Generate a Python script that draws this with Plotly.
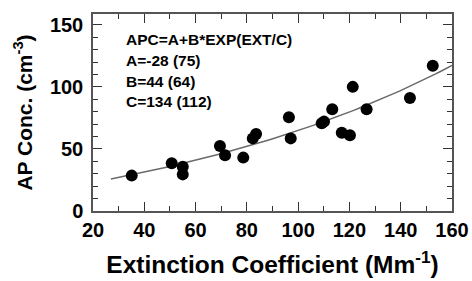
import numpy as np
import plotly.graph_objects as go

# Scatter data (Extinction coefficient, AP concentration)
ext = [35.1, 50.7, 55.0, 55.0, 69.5, 71.5, 78.6, 82.3, 83.6, 96.4,
       97.1, 109.2, 110.1, 113.3, 117.0, 120.2, 121.3, 126.7, 143.6, 152.5]
apc = [28.5, 38.5, 35.7, 29.5, 52.4, 45.0, 43.0, 58.5, 62.0, 75.6,
       58.5, 70.7, 72.0, 82.0, 63.0, 61.0, 100.0, 82.0, 91.0, 117.0]

# Fit parameters shown on the chart
A_fit, B_fit, C_fit = -28, 44, 134
fit_x = np.linspace(27, 160, 60)
fit_y = A_fit + B_fit * np.exp(fit_x / C_fit)

labels = ["APC=A+B*EXP(EXT/C)", "A=-28 (75)", "B=44 (64)", "C=134 (112)"]

FONT = "Liberation Sans, Arial, sans-serif"

fig = go.Figure()
fig.add_trace(go.Scatter(x=fit_x, y=fit_y, mode="lines",
                         line=dict(color="#6a6a6a", width=1.5),
                         hoverinfo="skip", showlegend=False))
fig.add_trace(go.Scatter(x=ext, y=apc, mode="markers",
                         marker=dict(color="black", size=12),
                         showlegend=False))

ys = [40, 60, 81, 101]
for t, yp in zip(labels, ys):
    fig.add_annotation(text=t, xref="paper", yref="paper",
                       x=(124 - 93) / 359, y=(211 - yp) / 197,
                       xanchor="left", yanchor="middle", showarrow=False,
                       font=dict(family=FONT, size=15.5, color="black", weight="bold"))

axis_common = dict(
    showline=True, linecolor="#555555", linewidth=1.5, mirror="ticks",
    ticks="inside", ticklen=9, tickwidth=1.2, tickcolor="#333333",
    showgrid=False, zeroline=False, automargin=False,
    tickfont=dict(family=FONT, size=20, color="black", weight="bold"),
)

fig.update_xaxes(range=[20, 160], dtick=20, tick0=20,
                 minor=dict(dtick=10, ticklen=5, ticks="inside", tickcolor="#333333"),
                 title=dict(text="Extinction Coefficient (Mm<sup>-1</sup>)", standoff=16,
                            font=dict(family=FONT, size=24.5, color="black", weight="bold")),
                 **axis_common)
fig.update_yaxes(range=[0, 158.7], dtick=50, tick0=0, ticklabelstandoff=4,
                 minor=dict(dtick=10, ticklen=5, ticks="inside", tickcolor="#333333"),
                 title=dict(text="AP Conc. (cm<sup>-3</sup>)", standoff=12,
                            font=dict(family=FONT, size=21, color="black", weight="bold")),
                 **axis_common)

fig.update_layout(width=472, height=281, margin=dict(l=93, r=20, t=14, b=70),
                  plot_bgcolor="white", paper_bgcolor="white")

fig.write_html("out.html", config={"displayModeBar": False},
               post_script="document.body.style.margin='0px';document.body.style.overflow='hidden';")
